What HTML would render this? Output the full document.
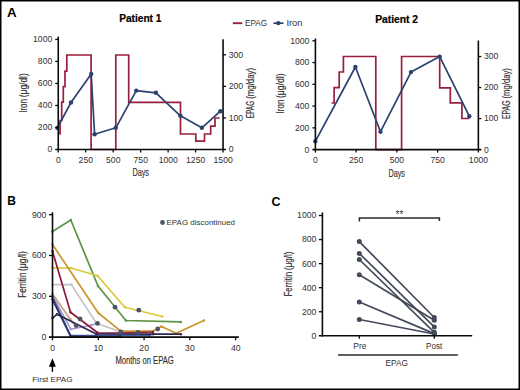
<!DOCTYPE html>
<html><head><meta charset="utf-8"><style>
html,body{margin:0;padding:0;background:#fff;}
#wrap{position:relative;width:520px;height:390px;overflow:hidden;background:#fff;}
svg{position:absolute;left:0;top:0;}
text{font-family:"Liberation Sans",sans-serif;}
</style></head><body><div id="wrap">
<svg width="520" height="390" viewBox="0 0 520 390">
<rect x="0" y="0" width="520" height="390" fill="#fff"/>
<text x="6.9" y="16.9" font-size="12.8" fill="#000" font-weight="bold" textLength="9.6" lengthAdjust="spacingAndGlyphs">A</text>
<text x="7.15" y="204.55" font-size="12.8" fill="#000" font-weight="bold" textLength="8.68" lengthAdjust="spacingAndGlyphs">B</text>
<text x="271.6" y="205.5" font-size="12.8" fill="#000" font-weight="bold" textLength="9" lengthAdjust="spacingAndGlyphs">C</text>
<text x="119.15" y="21.6" font-size="10.3" fill="#000" stroke="#000" stroke-width="0.2" font-weight="bold" textLength="42.3" lengthAdjust="spacingAndGlyphs">Patient 1</text>
<text x="375.15" y="22.6" font-size="10.3" fill="#000" stroke="#000" stroke-width="0.2" font-weight="bold" textLength="42.9" lengthAdjust="spacingAndGlyphs">Patient 2</text>
<line x1="232.8" y1="23.2" x2="242.3" y2="23.2" stroke="#9a1f3d" stroke-width="1.9"/>
<text x="245.05" y="25.8" font-size="9.4" fill="#303030" textLength="22.05" lengthAdjust="spacingAndGlyphs">EPAG</text>
<line x1="273.5" y1="23.2" x2="283.5" y2="23.2" stroke="#2b4270" stroke-width="1.7"/>
<circle cx="278.3" cy="23.2" r="2.1" fill="#2b4270"/>
<text x="286.4" y="25.6" font-size="9.4" fill="#303030" textLength="16.15" lengthAdjust="spacingAndGlyphs">Iron</text>
<path d="M58.3,133.6 H60.1 V120.5 H61.7 V102.2 H63.3 V86.7 H65 V71.1 H66.8 V55 H91.1 V149.5 H115.8 V55 H128.7 V102.4 H180.5 V134 H195.8 V141.2 H204.5 V134 H210.7 V126.2 H215 V118 H219.6" fill="none" stroke="#9a1f3d" stroke-width="1.7"/>
<polyline points="57.4,127.9 71,102.5 91.2,74 94.6,134.3 115.8,127.8 136.3,90.6 155.9,92.8 180.4,115.8 201.9,127.8 220.4,111.2" fill="none" stroke="#2b4270" stroke-width="1.7" stroke-linejoin="round"/>
<circle cx="57.4" cy="127.9" r="2.2" fill="#2b4270"/>
<circle cx="71" cy="102.5" r="2.2" fill="#2b4270"/>
<circle cx="91.2" cy="74" r="2.2" fill="#2b4270"/>
<circle cx="94.6" cy="134.3" r="2.2" fill="#2b4270"/>
<circle cx="115.8" cy="127.8" r="2.2" fill="#2b4270"/>
<circle cx="136.3" cy="90.6" r="2.2" fill="#2b4270"/>
<circle cx="155.9" cy="92.8" r="2.2" fill="#2b4270"/>
<circle cx="180.4" cy="115.8" r="2.2" fill="#2b4270"/>
<circle cx="201.9" cy="127.8" r="2.2" fill="#2b4270"/>
<circle cx="220.4" cy="111.2" r="2.2" fill="#2b4270"/>
<line x1="58.25" y1="36.6" x2="58.25" y2="150.25" stroke="#0a0a0a" stroke-width="1.6"/>
<line x1="223.05" y1="39.2" x2="223.05" y2="150.25" stroke="#0a0a0a" stroke-width="1.6"/>
<line x1="55.25" y1="149.5" x2="226.05" y2="149.5" stroke="#0a0a0a" stroke-width="1.6"/>
<line x1="55.25" y1="127.48" x2="58.25" y2="127.48" stroke="#0a0a0a" stroke-width="1.3"/>
<line x1="55.25" y1="105.46" x2="58.25" y2="105.46" stroke="#0a0a0a" stroke-width="1.3"/>
<line x1="55.25" y1="83.44" x2="58.25" y2="83.44" stroke="#0a0a0a" stroke-width="1.3"/>
<line x1="55.25" y1="61.42" x2="58.25" y2="61.42" stroke="#0a0a0a" stroke-width="1.3"/>
<line x1="55.25" y1="39.4" x2="58.25" y2="39.4" stroke="#0a0a0a" stroke-width="1.3"/>
<text x="52.25" y="152.4" font-size="8.65" fill="#303030" text-anchor="end">0</text>
<text x="52.25" y="130.38" font-size="8.65" fill="#303030" text-anchor="end">200</text>
<text x="52.25" y="108.36" font-size="8.65" fill="#303030" text-anchor="end">400</text>
<text x="52.25" y="86.34" font-size="8.65" fill="#303030" text-anchor="end">600</text>
<text x="52.25" y="64.32" font-size="8.65" fill="#303030" text-anchor="end">800</text>
<text x="52.25" y="42.3" font-size="8.65" fill="#303030" text-anchor="end">1000</text>
<line x1="223.05" y1="117.93" x2="226.05" y2="117.93" stroke="#0a0a0a" stroke-width="1.3"/>
<line x1="223.05" y1="86.36" x2="226.05" y2="86.36" stroke="#0a0a0a" stroke-width="1.3"/>
<line x1="223.05" y1="54.79" x2="226.05" y2="54.79" stroke="#0a0a0a" stroke-width="1.3"/>
<text x="228.65" y="152.4" font-size="8.65" fill="#303030">0</text>
<text x="228.65" y="120.83" font-size="8.65" fill="#303030">100</text>
<text x="228.65" y="89.26" font-size="8.65" fill="#303030">200</text>
<text x="228.65" y="57.69" font-size="8.65" fill="#303030">300</text>
<line x1="58.25" y1="149.5" x2="58.25" y2="152.5" stroke="#0a0a0a" stroke-width="1.3"/>
<text x="58.35" y="162.6" font-size="8.65" fill="#303030" text-anchor="middle">0</text>
<line x1="85.72" y1="149.5" x2="85.72" y2="152.5" stroke="#0a0a0a" stroke-width="1.3"/>
<text x="85.82" y="162.6" font-size="8.65" fill="#303030" text-anchor="middle">250</text>
<line x1="113.18" y1="149.5" x2="113.18" y2="152.5" stroke="#0a0a0a" stroke-width="1.3"/>
<text x="113.28" y="162.6" font-size="8.65" fill="#303030" text-anchor="middle">500</text>
<line x1="140.65" y1="149.5" x2="140.65" y2="152.5" stroke="#0a0a0a" stroke-width="1.3"/>
<text x="140.75" y="162.6" font-size="8.65" fill="#303030" text-anchor="middle">750</text>
<line x1="168.12" y1="149.5" x2="168.12" y2="152.5" stroke="#0a0a0a" stroke-width="1.3"/>
<text x="168.22" y="162.6" font-size="8.65" fill="#303030" text-anchor="middle">1000</text>
<line x1="195.58" y1="149.5" x2="195.58" y2="152.5" stroke="#0a0a0a" stroke-width="1.3"/>
<text x="195.68" y="162.6" font-size="8.65" fill="#303030" text-anchor="middle">1250</text>
<line x1="223.05" y1="149.5" x2="223.05" y2="152.5" stroke="#0a0a0a" stroke-width="1.3"/>
<text x="223.15" y="162.6" font-size="8.65" fill="#303030" text-anchor="middle">1500</text>
<text x="132.4" y="176.3" font-size="10.4" fill="#303030" stroke="#303030" stroke-width="0.15" textLength="16.6" lengthAdjust="spacingAndGlyphs">Days</text>
<path d="M331.6,103 H334.1 V87.6 H339.2 V72 H343.4 V56.5 H375.8 V149.6 H401.6 V56.5 H439.7 V87.8 H450.3 V102.8 H461.9 V118.5 H469.3" fill="none" stroke="#9a1f3d" stroke-width="1.7"/>
<polyline points="315.3,141.3 355.4,67 380.5,131.7 411,72.1 439.7,56.6 469.3,116.2" fill="none" stroke="#2b4270" stroke-width="1.7" stroke-linejoin="round"/>
<circle cx="315.3" cy="141.3" r="2.2" fill="#2b4270"/>
<circle cx="355.4" cy="67" r="2.2" fill="#2b4270"/>
<circle cx="380.5" cy="131.7" r="2.2" fill="#2b4270"/>
<circle cx="411" cy="72.1" r="2.2" fill="#2b4270"/>
<circle cx="439.7" cy="56.6" r="2.2" fill="#2b4270"/>
<circle cx="469.3" cy="116.2" r="2.2" fill="#2b4270"/>
<line x1="315.4" y1="38.5" x2="315.4" y2="150.35" stroke="#0a0a0a" stroke-width="1.6"/>
<line x1="478.35" y1="40.5" x2="478.35" y2="150.35" stroke="#0a0a0a" stroke-width="1.6"/>
<line x1="312.4" y1="149.6" x2="481.35" y2="149.6" stroke="#0a0a0a" stroke-width="1.6"/>
<line x1="312.4" y1="127.84" x2="315.4" y2="127.84" stroke="#0a0a0a" stroke-width="1.3"/>
<line x1="312.4" y1="106.08" x2="315.4" y2="106.08" stroke="#0a0a0a" stroke-width="1.3"/>
<line x1="312.4" y1="84.32" x2="315.4" y2="84.32" stroke="#0a0a0a" stroke-width="1.3"/>
<line x1="312.4" y1="62.56" x2="315.4" y2="62.56" stroke="#0a0a0a" stroke-width="1.3"/>
<line x1="312.4" y1="40.8" x2="315.4" y2="40.8" stroke="#0a0a0a" stroke-width="1.3"/>
<text x="309.4" y="152.5" font-size="8.65" fill="#303030" text-anchor="end">0</text>
<text x="309.4" y="130.74" font-size="8.65" fill="#303030" text-anchor="end">200</text>
<text x="309.4" y="108.98" font-size="8.65" fill="#303030" text-anchor="end">400</text>
<text x="309.4" y="87.22" font-size="8.65" fill="#303030" text-anchor="end">600</text>
<text x="309.4" y="65.46" font-size="8.65" fill="#303030" text-anchor="end">800</text>
<text x="309.4" y="43.7" font-size="8.65" fill="#303030" text-anchor="end">1000</text>
<line x1="478.35" y1="118.57" x2="481.35" y2="118.57" stroke="#0a0a0a" stroke-width="1.3"/>
<line x1="478.35" y1="87.54" x2="481.35" y2="87.54" stroke="#0a0a0a" stroke-width="1.3"/>
<line x1="478.35" y1="56.51" x2="481.35" y2="56.51" stroke="#0a0a0a" stroke-width="1.3"/>
<text x="483.95" y="152.5" font-size="8.65" fill="#303030">0</text>
<text x="483.95" y="121.47" font-size="8.65" fill="#303030">100</text>
<text x="483.95" y="90.44" font-size="8.65" fill="#303030">200</text>
<text x="483.95" y="59.41" font-size="8.65" fill="#303030">300</text>
<line x1="315.4" y1="149.6" x2="315.4" y2="152.6" stroke="#0a0a0a" stroke-width="1.3"/>
<text x="315.5" y="162.7" font-size="8.65" fill="#303030" text-anchor="middle">0</text>
<line x1="356.14" y1="149.6" x2="356.14" y2="152.6" stroke="#0a0a0a" stroke-width="1.3"/>
<text x="356.24" y="162.7" font-size="8.65" fill="#303030" text-anchor="middle">250</text>
<line x1="396.88" y1="149.6" x2="396.88" y2="152.6" stroke="#0a0a0a" stroke-width="1.3"/>
<text x="396.98" y="162.7" font-size="8.65" fill="#303030" text-anchor="middle">500</text>
<line x1="437.61" y1="149.6" x2="437.61" y2="152.6" stroke="#0a0a0a" stroke-width="1.3"/>
<text x="437.71" y="162.7" font-size="8.65" fill="#303030" text-anchor="middle">750</text>
<line x1="478.35" y1="149.6" x2="478.35" y2="152.6" stroke="#0a0a0a" stroke-width="1.3"/>
<text x="478.45" y="162.7" font-size="8.65" fill="#303030" text-anchor="middle">1000</text>
<text x="388.4" y="176.5" font-size="10.4" fill="#303030" stroke="#303030" stroke-width="0.15" textLength="16.6" lengthAdjust="spacingAndGlyphs">Days</text>
<polyline points="52.5,284.6 71.3,284.6 96.5,323.2 120.6,331.9 150,332.5" fill="none" stroke="#c4c4c4" stroke-width="1.7" stroke-linejoin="round"/>
<circle cx="52.5" cy="284.6" r="1.25" fill="#c4c4c4"/>
<circle cx="71.3" cy="284.6" r="1.25" fill="#c4c4c4"/>
<circle cx="96.5" cy="323.2" r="1.25" fill="#c4c4c4"/>
<circle cx="120.6" cy="331.9" r="1.25" fill="#c4c4c4"/>
<circle cx="150" cy="332.5" r="1.25" fill="#c4c4c4"/>
<polyline points="52.5,231.5 70.8,220 98,286 125.9,320.5 180.8,321.9" fill="none" stroke="#5a9442" stroke-width="1.7" stroke-linejoin="round"/>
<circle cx="52.5" cy="231.5" r="1.25" fill="#5a9442"/>
<circle cx="70.8" cy="220" r="1.25" fill="#5a9442"/>
<circle cx="98" cy="286" r="1.25" fill="#5a9442"/>
<circle cx="125.9" cy="320.5" r="1.25" fill="#5a9442"/>
<circle cx="180.8" cy="321.9" r="1.25" fill="#5a9442"/>
<polyline points="52.5,267.8 71,268 97.5,275.8 124.9,307.2 162.3,316.5" fill="none" stroke="#d9c838" stroke-width="1.7" stroke-linejoin="round"/>
<circle cx="52.5" cy="267.8" r="1.25" fill="#d9c838"/>
<circle cx="71" cy="268" r="1.25" fill="#d9c838"/>
<circle cx="97.5" cy="275.8" r="1.25" fill="#d9c838"/>
<circle cx="124.9" cy="307.2" r="1.25" fill="#d9c838"/>
<circle cx="162.3" cy="316.5" r="1.25" fill="#d9c838"/>
<polyline points="52.5,244.5 98.3,313 120.8,331.2 153,331 161.5,326.5 176.2,333.2 203.8,320.4" fill="none" stroke="#c8952e" stroke-width="1.7" stroke-linejoin="round"/>
<circle cx="52.5" cy="244.5" r="1.25" fill="#c8952e"/>
<circle cx="98.3" cy="313" r="1.25" fill="#c8952e"/>
<circle cx="120.8" cy="331.2" r="1.25" fill="#c8952e"/>
<circle cx="153" cy="331" r="1.25" fill="#c8952e"/>
<circle cx="161.5" cy="326.5" r="1.25" fill="#c8952e"/>
<circle cx="176.2" cy="333.2" r="1.25" fill="#c8952e"/>
<circle cx="203.8" cy="320.4" r="1.25" fill="#c8952e"/>
<polyline points="52.5,293.8 70.4,319.5 75.4,325.8" fill="none" stroke="#c4a07a" stroke-width="1.6" stroke-linejoin="round"/>
<circle cx="52.5" cy="293.8" r="1.25" fill="#c4a07a"/>
<circle cx="70.4" cy="319.5" r="1.25" fill="#c4a07a"/>
<circle cx="75.4" cy="325.8" r="1.25" fill="#c4a07a"/>
<polyline points="52.5,295.5 70.8,329.2 91,325.2 97.7,323.2" fill="none" stroke="#a49cc8" stroke-width="1.6" stroke-linejoin="round"/>
<circle cx="52.5" cy="295.5" r="1.25" fill="#a49cc8"/>
<circle cx="70.8" cy="329.2" r="1.25" fill="#a49cc8"/>
<circle cx="91" cy="325.2" r="1.25" fill="#a49cc8"/>
<circle cx="97.7" cy="323.2" r="1.25" fill="#a49cc8"/>
<polyline points="52.5,251.3 70.5,312.2 97.7,332.8 120.6,333 153,332" fill="none" stroke="#8f1b3b" stroke-width="1.7" stroke-linejoin="round"/>
<circle cx="52.5" cy="251.3" r="1.25" fill="#8f1b3b"/>
<circle cx="70.5" cy="312.2" r="1.25" fill="#8f1b3b"/>
<circle cx="97.7" cy="332.8" r="1.25" fill="#8f1b3b"/>
<circle cx="120.6" cy="333" r="1.25" fill="#8f1b3b"/>
<circle cx="153" cy="332" r="1.25" fill="#8f1b3b"/>
<polyline points="52.5,297 70.6,335.6 150,335.6" fill="none" stroke="#4a60a8" stroke-width="1.7" stroke-linejoin="round"/>
<circle cx="52.5" cy="297" r="1.25" fill="#4a60a8"/>
<circle cx="70.6" cy="335.6" r="1.25" fill="#4a60a8"/>
<circle cx="150" cy="335.6" r="1.25" fill="#4a60a8"/>
<polyline points="52.5,299.5 70.6,336.3 120,336.3" fill="none" stroke="#27356a" stroke-width="1.7" stroke-linejoin="round"/>
<circle cx="52.5" cy="299.5" r="1.25" fill="#27356a"/>
<circle cx="70.6" cy="336.3" r="1.25" fill="#27356a"/>
<circle cx="120" cy="336.3" r="1.25" fill="#27356a"/>
<polyline points="52.5,318.1 57,314.3 96.3,334 153,334.2 180.8,334.2" fill="none" stroke="#2e2652" stroke-width="1.7" stroke-linejoin="round"/>
<circle cx="52.5" cy="318.1" r="1.25" fill="#2e2652"/>
<circle cx="57" cy="314.3" r="1.25" fill="#2e2652"/>
<circle cx="96.3" cy="334" r="1.25" fill="#2e2652"/>
<circle cx="153" cy="334.2" r="1.25" fill="#2e2652"/>
<circle cx="180.8" cy="334.2" r="1.25" fill="#2e2652"/>
<circle cx="80.1" cy="319" r="2.4" fill="#4e5366"/>
<circle cx="76.2" cy="325.6" r="2.4" fill="#4e5366"/>
<circle cx="97.5" cy="323.4" r="2.4" fill="#4e5366"/>
<circle cx="115" cy="307.2" r="2.4" fill="#4e5366"/>
<circle cx="138.8" cy="310.2" r="2.4" fill="#4e5366"/>
<circle cx="157.7" cy="329" r="2.4" fill="#4e5366"/>
<circle cx="120.8" cy="332" r="2.4" fill="#4e5366"/>
<circle cx="138" cy="332.3" r="2.4" fill="#4e5366"/>
<line x1="52.5" y1="212.2" x2="52.5" y2="337.9" stroke="#0a0a0a" stroke-width="1.6"/>
<line x1="49" y1="337.15" x2="238.8" y2="337.15" stroke="#0a0a0a" stroke-width="1.6"/>
<line x1="49" y1="296.32" x2="52.5" y2="296.32" stroke="#0a0a0a" stroke-width="1.3"/>
<line x1="49" y1="255.49" x2="52.5" y2="255.49" stroke="#0a0a0a" stroke-width="1.3"/>
<line x1="49" y1="214.66" x2="52.5" y2="214.66" stroke="#0a0a0a" stroke-width="1.3"/>
<text x="46.4" y="340.05" font-size="8.65" fill="#303030" text-anchor="end">0</text>
<text x="46.4" y="299.22" font-size="8.65" fill="#303030" text-anchor="end">300</text>
<text x="46.4" y="258.39" font-size="8.65" fill="#303030" text-anchor="end">600</text>
<text x="46.4" y="217.56" font-size="8.65" fill="#303030" text-anchor="end">900</text>
<line x1="52.5" y1="337.15" x2="52.5" y2="340.35" stroke="#0a0a0a" stroke-width="1.3"/>
<text x="52.6" y="350.65" font-size="8.65" fill="#303030" text-anchor="middle">0</text>
<line x1="98.28" y1="337.15" x2="98.28" y2="340.35" stroke="#0a0a0a" stroke-width="1.3"/>
<text x="98.38" y="350.65" font-size="8.65" fill="#303030" text-anchor="middle">10</text>
<line x1="144.05" y1="337.15" x2="144.05" y2="340.35" stroke="#0a0a0a" stroke-width="1.3"/>
<text x="144.15" y="350.65" font-size="8.65" fill="#303030" text-anchor="middle">20</text>
<line x1="189.82" y1="337.15" x2="189.82" y2="340.35" stroke="#0a0a0a" stroke-width="1.3"/>
<text x="189.92" y="350.65" font-size="8.65" fill="#303030" text-anchor="middle">30</text>
<line x1="235.6" y1="337.15" x2="235.6" y2="340.35" stroke="#0a0a0a" stroke-width="1.3"/>
<text x="235.7" y="350.65" font-size="8.65" fill="#303030" text-anchor="middle">40</text>
<text x="115.45" y="363.8" font-size="10.2" fill="#303030" stroke="#303030" stroke-width="0.15" textLength="58.27" lengthAdjust="spacingAndGlyphs">Months on EPAG</text>
<circle cx="162.5" cy="222.5" r="2.4" fill="#4e5366"/>
<text x="166.55" y="225.2" font-size="8.1" fill="#303030" textLength="68.46" lengthAdjust="spacingAndGlyphs">EPAG discontinued</text>
<line x1="52.4" y1="362.5" x2="52.4" y2="371.8" stroke="#000" stroke-width="1.4"/>
<path d="M52.4,358.3 L48.9,366.8 L55.9,366.8 Z" fill="#000"/>
<text x="32.35" y="382.3" font-size="8.1" fill="#303030" textLength="40.32" lengthAdjust="spacingAndGlyphs">First EPAG</text>
<line x1="359.3" y1="241.6" x2="434.3" y2="317.5" stroke="#444a5a" stroke-width="1.7"/>
<line x1="359.3" y1="253.4" x2="434.3" y2="326.9" stroke="#444a5a" stroke-width="1.7"/>
<line x1="359.3" y1="259.5" x2="434.3" y2="332.3" stroke="#444a5a" stroke-width="1.7"/>
<line x1="359.3" y1="274.7" x2="434.3" y2="320.3" stroke="#444a5a" stroke-width="1.7"/>
<line x1="359.3" y1="302" x2="434.3" y2="333.6" stroke="#444a5a" stroke-width="1.7"/>
<line x1="359.3" y1="319.5" x2="434.3" y2="334" stroke="#444a5a" stroke-width="1.7"/>
<circle cx="359.3" cy="241.6" r="2.5" fill="#444a5a"/>
<circle cx="434.3" cy="317.5" r="2.5" fill="#444a5a"/>
<circle cx="359.3" cy="253.4" r="2.5" fill="#444a5a"/>
<circle cx="434.3" cy="326.9" r="2.5" fill="#444a5a"/>
<circle cx="359.3" cy="259.5" r="2.5" fill="#444a5a"/>
<circle cx="434.3" cy="332.3" r="2.5" fill="#444a5a"/>
<circle cx="359.3" cy="274.7" r="2.5" fill="#444a5a"/>
<circle cx="434.3" cy="320.3" r="2.5" fill="#444a5a"/>
<circle cx="359.3" cy="302" r="2.5" fill="#444a5a"/>
<circle cx="434.3" cy="333.6" r="2.5" fill="#444a5a"/>
<circle cx="359.3" cy="319.5" r="2.5" fill="#444a5a"/>
<circle cx="434.3" cy="334" r="2.5" fill="#444a5a"/>
<line x1="322.4" y1="212.5" x2="322.4" y2="336.55" stroke="#0a0a0a" stroke-width="1.6"/>
<line x1="318.9" y1="335.8" x2="472.2" y2="335.8" stroke="#0a0a0a" stroke-width="1.6"/>
<line x1="318.9" y1="311.74" x2="322.4" y2="311.74" stroke="#0a0a0a" stroke-width="1.3"/>
<line x1="318.9" y1="287.68" x2="322.4" y2="287.68" stroke="#0a0a0a" stroke-width="1.3"/>
<line x1="318.9" y1="263.62" x2="322.4" y2="263.62" stroke="#0a0a0a" stroke-width="1.3"/>
<line x1="318.9" y1="239.56" x2="322.4" y2="239.56" stroke="#0a0a0a" stroke-width="1.3"/>
<line x1="318.9" y1="215.5" x2="322.4" y2="215.5" stroke="#0a0a0a" stroke-width="1.3"/>
<text x="316.3" y="338.7" font-size="8.65" fill="#303030" text-anchor="end">0</text>
<text x="316.3" y="314.64" font-size="8.65" fill="#303030" text-anchor="end">200</text>
<text x="316.3" y="290.58" font-size="8.65" fill="#303030" text-anchor="end">400</text>
<text x="316.3" y="266.52" font-size="8.65" fill="#303030" text-anchor="end">600</text>
<text x="316.3" y="242.46" font-size="8.65" fill="#303030" text-anchor="end">800</text>
<text x="316.3" y="218.4" font-size="8.65" fill="#303030" text-anchor="end">1000</text>
<line x1="359.3" y1="335.8" x2="359.3" y2="338.8" stroke="#0a0a0a" stroke-width="1.3"/>
<line x1="434.3" y1="335.8" x2="434.3" y2="338.8" stroke="#0a0a0a" stroke-width="1.3"/>
<text x="353.35" y="349.3" font-size="8.7" fill="#303030" textLength="13.07" lengthAdjust="spacingAndGlyphs">Pre</text>
<text x="426.05" y="349.2" font-size="8.5" fill="#303030" textLength="16.23" lengthAdjust="spacingAndGlyphs">Post</text>
<line x1="338" y1="355" x2="457.8" y2="355" stroke="#2a2a2a" stroke-width="1.6"/>
<text x="385.55" y="365.6" font-size="9.36" fill="#303030" textLength="22.34" lengthAdjust="spacingAndGlyphs">EPAG</text>
<path d="M359.4,221.5 V218 H439.4 V221" fill="none" stroke="#2a2a2a" stroke-width="1.5"/>
<text x="399.5" y="217.6" font-size="10" fill="#333" text-anchor="middle">**</text>
<text x="254.3" y="118.3" font-size="10" fill="#303030" stroke="#303030" stroke-width="0.15" textLength="17.49" lengthAdjust="spacingAndGlyphs" transform="rotate(-90 254.3 118.3)">EPAG</text>
<text x="254.3" y="98.85" font-size="10" fill="#303030" stroke="#303030" stroke-width="0.15" textLength="31" lengthAdjust="spacingAndGlyphs" transform="rotate(-90 254.3 98.85)">(mg/day)</text>
<text x="509.8" y="119.1" font-size="10" fill="#303030" stroke="#303030" stroke-width="0.15" textLength="18.59" lengthAdjust="spacingAndGlyphs" transform="rotate(-90 509.8 119.1)">EPAG</text>
<text x="509.8" y="98.45" font-size="10" fill="#303030" stroke="#303030" stroke-width="0.15" textLength="30.28" lengthAdjust="spacingAndGlyphs" transform="rotate(-90 509.8 98.45)">(mg/day)</text>
<text x="27.5" y="112.8" font-size="10.2" fill="#303030" stroke="#303030" stroke-width="0.15" textLength="13.73" lengthAdjust="spacingAndGlyphs" transform="rotate(-90 27.5 112.8)">Iron</text>
<text x="27.5" y="97.3" font-size="10.2" fill="#303030" stroke="#303030" stroke-width="0.15" textLength="24.11" lengthAdjust="spacingAndGlyphs" transform="rotate(-90 27.5 97.3)">(μg/dl)</text>
<text x="284.5" y="113.4" font-size="10" fill="#303030" stroke="#303030" stroke-width="0.15" textLength="13.74" lengthAdjust="spacingAndGlyphs" transform="rotate(-90 284.5 113.4)">Iron</text>
<text x="284.5" y="98.1" font-size="10" fill="#303030" stroke="#303030" stroke-width="0.15" textLength="24.6" lengthAdjust="spacingAndGlyphs" transform="rotate(-90 284.5 98.1)">(μg/dl)</text>
<text x="26.3" y="297.8" font-size="10" fill="#303030" stroke="#303030" stroke-width="0.15" textLength="25.21" lengthAdjust="spacingAndGlyphs" transform="rotate(-90 26.3 297.8)">Ferritin</text>
<text x="26.3" y="271" font-size="10" fill="#303030" stroke="#303030" stroke-width="0.15" textLength="19.85" lengthAdjust="spacingAndGlyphs" transform="rotate(-90 26.3 271)">(μg/l)</text>
<text x="291.7" y="296.5" font-size="10.2" fill="#303030" stroke="#303030" stroke-width="0.15" textLength="24.64" lengthAdjust="spacingAndGlyphs" transform="rotate(-90 291.7 296.5)">Ferritin</text>
<text x="291.7" y="270" font-size="10.2" fill="#303030" stroke="#303030" stroke-width="0.15" textLength="18.53" lengthAdjust="spacingAndGlyphs" transform="rotate(-90 291.7 270)">(μg/l)</text>
<rect x="0.75" y="0.75" width="518.5" height="388.5" fill="none" stroke="#000" stroke-width="1.5"/>
</svg></div></body></html>
